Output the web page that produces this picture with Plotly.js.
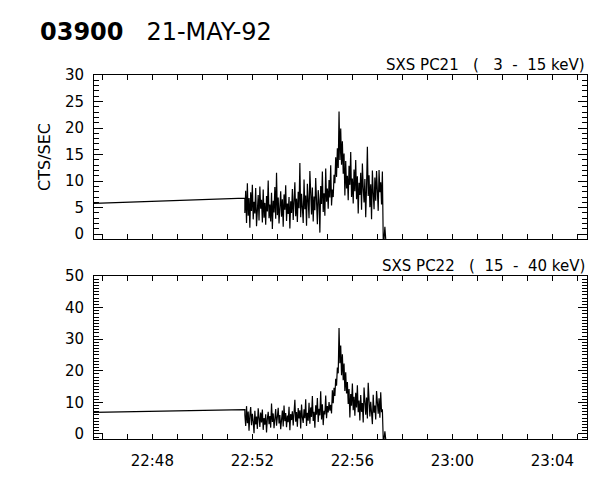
<!DOCTYPE html>
<html>
<head>
<meta charset="utf-8">
<script src="https://cdn.plot.ly/plotly-3.0.1.min.js"></script>
<style>html,body{margin:0;padding:0;background:#fff;}#chart{width:600px;height:480px;}</style>
</head>
<body>
<div id="chart"></div>
<script>
// ---- data ----
const DAY = '1992-05-21 ';
// flat (interpolated gap) segment before the data stream
const gapTimes = ['22:45:40', '22:51:42'];
const gapPC21 = [5.8, 6.8];
const gapPC22 = [6.8, 7.7];
// sampled data stream: start time and cadence (seconds)
const streamStart = '22:51:42';
const streamStepSec = 2;
const pc21 = [
  4.0, 8.2, 2.1, 9.6, 3.5, 6.8, 1.2, 7.9, 4.4, 9.3,
  2.8, 6.1, 3.9, 8.7, 1.5, 5.2, 7.4, 2.6, 9.0, 4.8,
  6.5, 2.2, 8.4, 3.1, 5.9, 1.8, 7.2, 4.3, 10.1, 3.0,
  5.6, 2.4, 7.8, 1.0, 6.3, 4.1, 8.9, 2.9, 11.6, 3.6,
  6.9, 2.0, 5.1, 8.1, 3.3, 6.6, 1.4, 7.5, 4.6, 9.2,
  2.5, 5.8, 3.8, 7.0, 1.1, 6.2, 4.0, 8.5, 2.7, 5.4,
  9.8, 3.4, 6.7, 2.3, 8.0, 4.9, 13.4, 3.2, 7.6, 5.0,
  2.1, 10.3, 4.7, 7.3, 1.6, 9.5, 5.5, 3.0, 11.9, 6.0,
  3.7, 8.8, 2.4, 7.1, 4.5, 10.6, 5.3, 1.9, 8.3, 6.4,
  0.3, 9.1, 5.7, 11.8, 4.2, 7.7, 3.5, 12.4, 6.1, 8.6,
  4.8, 10.2, 6.9, 13.0, 5.4, 8.4, 7.0, 11.2, 9.6, 14.5,
  10.8, 16.2, 12.5, 23.1, 14.0, 19.9, 13.1, 17.5, 11.4, 15.2,
  7.3, 13.8, 8.6, 11.0, 6.4, 12.9, 9.3, 15.5, 7.0, 10.5,
  5.8, 12.2, 8.1, 14.0, 6.6, 10.9, 3.9, 9.7, 7.4, 11.6,
  4.6, 13.3, 8.8, 6.0, 10.4, 3.2, 9.0, 16.5, 7.2, 11.1,
  5.1, 9.4, 2.8, 12.0, 7.8, 4.7, 10.7, 6.3, 11.9, 8.5,
  4.4, 12.1, 7.9, 9.8, 5.6, 11.8,
  -0.9, -0.9, 1.4, -0.9
];
const pc22 = [
  6.0, 2.5, 8.8, 3.4, 7.1, 1.0, 5.9, 8.5, 2.8, 6.4,
  4.1, 0.2, 7.3, 3.0, 5.5, 1.6, 8.1, 4.5, 2.2, 6.8,
  3.6, 7.7, 1.3, 5.0, 2.9, 6.2, 0.5, 4.8, 7.0, 3.1,
  5.7, 2.0, 9.6, 3.8, 6.5, 1.8, 4.6, 7.9, 2.6, 5.3,
  8.3, 3.3, 6.0, 1.5, 5.1, 7.4, 2.4, 9.0, 4.0, 6.6,
  2.1, 5.8, 3.7, 8.6, 1.2, 6.3, 4.4, 7.2, 2.7, 5.6,
  10.8, 3.9, 6.9, 2.3, 8.2, 4.9, 7.5, 1.7, 9.3, 5.2,
  3.5, 7.8, 5.0, 11.0, 2.5, 6.7, 4.2, 9.9, 3.2, 8.4,
  5.4, 12.0, 4.1, 7.0, 2.0, 9.1, 6.1, 11.4, 3.8, 8.0,
  5.9, 13.5, 4.6, 9.4, 2.8, 7.3, 6.2, 12.2, 5.0, 8.8,
  6.8, 10.1, 7.4, 9.2, 6.5, 13.8, 9.7, 14.6, 12.0, 17.5,
  15.3, 21.0, 19.2, 33.5, 22.4, 28.0, 18.6, 25.2, 17.0, 22.3,
  13.6, 19.5, 12.8, 16.4, 9.5, 14.2, 5.2, 12.6, 8.9, 16.0,
  7.5, 11.8, 5.8, 13.0, 8.4, 15.4, 6.9, 10.6, 4.3, 12.3,
  7.0, 9.8, 3.6, 14.7, 8.1, 6.1, 11.5, 4.9, 16.2, 8.6,
  5.5, 10.2, 7.3, 3.1, 12.4, 6.7, 9.0, 4.6, 13.6, 8.2,
  6.4, 11.3, 5.1, 13.2, 6.9, 7.8,
  -1.6, -1.6, 0.8, -1.6
];
// axis tick positions (every minute) and labels (every 4 minutes)
const tickTimes = ['22:46','22:47','22:48','22:49','22:50','22:51','22:52','22:53','22:54',
  '22:55','22:56','22:57','22:58','22:59','23:00','23:01','23:02','23:03','23:04','23:05'];
const tickLabels = ['','','22:48','','','','22:52','','','','22:56','','','','23:00','','','','23:04',''];
const xRange = ['22:45:40', '23:05:23'];
const titleMain = '03900';
const titleDate = '21-MAY-92';
const label21 = 'SXS PC21&nbsp;&nbsp;&nbsp;(&nbsp;&nbsp;&nbsp;3 &nbsp;- &nbsp;15 keV)';
const label22 = 'SXS PC22&nbsp;&nbsp;&nbsp;( &nbsp;15 &nbsp;- &nbsp;40 keV)';
const yTitle = 'CTS/SEC';

// ---- build time axis ----
function pad(n){return (n<10?'0':'')+n;}
function addSec(hms, s){
  const p = hms.split(':').map(Number);
  let t = p[0]*3600 + p[1]*60 + (p[2]||0) + s;
  return DAY + pad(Math.floor(t/3600)) + ':' + pad(Math.floor(t%3600/60)) + ':' + pad(t%60);
}
const streamTimes = pc21.map((_, i) => addSec(streamStart, i*streamStepSec));
const xs = gapTimes.map(t => DAY + t).concat(streamTimes);
const y21 = gapPC21.concat(pc21);
const y22 = gapPC22.concat(pc22);

const FONT = 'DejaVu Sans, sans-serif';
const line = {color: '#000', width: 1.2};
const traces = [
  {x: xs, y: y22, type: 'scatter', mode: 'lines', line: line, xaxis: 'x', yaxis: 'y', hoverinfo: 'skip'},
  {x: xs, y: y21, type: 'scatter', mode: 'lines', line: line, xaxis: 'x2', yaxis: 'y2', hoverinfo: 'skip'}
];

const xCommon = {
  type: 'date',
  range: xRange.map(t => DAY + t),
  tickmode: 'array',
  tickvals: tickTimes.map(t => DAY + t + ':00'),
  ticktext: tickLabels,
  ticks: 'inside', ticklen: 5, tickwidth: 1, tickcolor: '#000',
  showline: true, linecolor: '#000', linewidth: 1, mirror: 'allticks',
  showgrid: false, zeroline: false,
  tickfont: {family: FONT, size: 15, color: '#000'},
  ticklabelstandoff: 8
};
const yCommon = {
  tick0: 0,
  ticks: 'inside', ticklen: 9, tickwidth: 1, tickcolor: '#000',
  showline: true, linecolor: '#000', linewidth: 1, mirror: 'allticks',
  showgrid: false, zeroline: false,
  tickfont: {family: FONT, size: 15, color: '#000'},
  ticklabelstandoff: 6,
  minor: {dtick: 1, ticks: 'inside', ticklen: 5, tickcolor: '#000', showgrid: false}
};

const layout = {
  width: 600, height: 480,
  margin: {l: 94, r: 13, t: 75, b: 41},
  paper_bgcolor: '#fff', plot_bgcolor: '#fff',
  showlegend: false,
  title: {
    text: '<b>' + titleMain + '</b>&nbsp;&nbsp;&nbsp;' + titleDate,
    font: {family: FONT, size: 24, color: '#000'},
    xref: 'container', yref: 'container',
    x: 40/600, xanchor: 'left', y: 1 - 32/480, yanchor: 'middle'
  },
  xaxis: Object.assign({}, xCommon, {domain: [0, 1], anchor: 'y'}),
  xaxis2: Object.assign({}, xCommon, {domain: [0, 1], anchor: 'y2', matches: 'x', showticklabels: false}),
  yaxis: Object.assign({}, yCommon, {domain: [0, 0.4478], range: [-1.6, 50], dtick: 10}),
  yaxis2: Object.assign({}, yCommon, {domain: [0.5495, 1], range: [-0.9, 30], dtick: 5}),
  annotations: [
    {text: label21, xref: 'paper', yref: 'paper', x: 1, y: 1, xanchor: 'right', yanchor: 'bottom',
     yshift: -1, showarrow: false, font: {family: FONT, size: 15, color: '#000'}},
    {text: label22, xref: 'paper', yref: 'paper', x: 1, y: 0.4478, xanchor: 'right', yanchor: 'bottom',
     yshift: -1, showarrow: false, font: {family: FONT, size: 15, color: '#000'}},
    {text: yTitle, xref: 'paper', yref: 'paper', x: (45-94)/493, y: 0.775, xanchor: 'center', yanchor: 'middle',
     textangle: -90, showarrow: false, font: {family: FONT, size: 16, color: '#000'}}
  ]
};

Plotly.newPlot('chart', traces, layout, {staticPlot: true, displayModeBar: false});
</script>
</body>
</html>
